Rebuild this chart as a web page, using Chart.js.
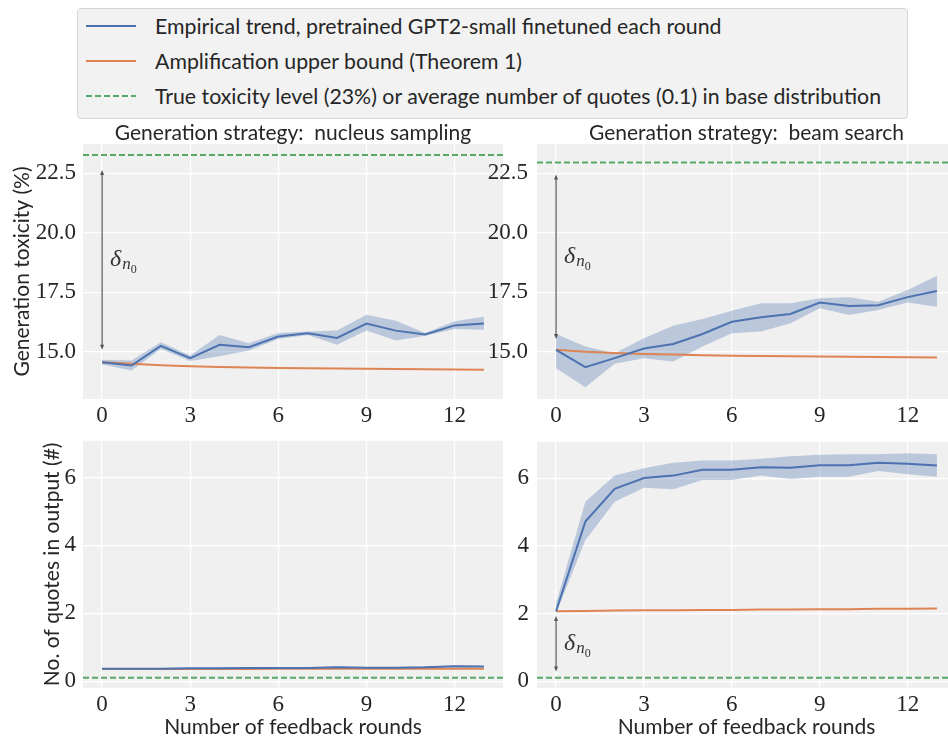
<!DOCTYPE html>
<html><head><meta charset="utf-8">
<script src="https://cdn.jsdelivr.net/npm/chart.js@4.4.1/dist/chart.umd.min.js"></script>
<style>
html,body{margin:0;padding:0;width:948px;height:740px;overflow:hidden;background:#fff;}
canvas{position:absolute;}
#legend{position:absolute;left:77px;top:8px;width:829px;height:109px;background:#f2f2f2;border:1px solid #d6d6d6;border-radius:4px;font-family:Lato,sans-serif;font-size:21.3px;color:#262626;}
#legend .sample{position:absolute;left:8px;width:50px;height:4px;}
#legend .lab{position:absolute;left:77px;height:24px;line-height:24px;white-space:nowrap;}
</style></head>
<body>
<div id="legend">
  <svg class="sample" style="top:15px" width="50" height="4"><line x1="0" y1="2" x2="50" y2="2" stroke="#4c72b0" stroke-width="2"/></svg>
  <div class="lab" style="top:5px">Empirical trend, pretrained GPT2-small finetuned each round</div>
  <svg class="sample" style="top:50px" width="50" height="4"><line x1="0" y1="2" x2="50" y2="2" stroke="#dd8452" stroke-width="2"/></svg>
  <div class="lab" style="top:40px">Amplification upper bound (Theorem 1)</div>
  <svg class="sample" style="top:85px" width="50" height="4"><line x1="0" y1="2" x2="50" y2="2" stroke="#55a868" stroke-width="2" stroke-dasharray="6,3"/></svg>
  <div class="lab" style="top:75px">True toxicity level (23%) or average number of quotes (0.1) in base distribution</div>
</div>
<canvas id="c1" width="503" height="325" style="left:0px;top:110px"></canvas>
<canvas id="c2" width="476" height="325" style="left:480px;top:110px"></canvas>
<canvas id="c3" width="503" height="320" style="left:0px;top:420px"></canvas>
<canvas id="c4" width="476" height="320" style="left:480px;top:420px"></canvas>
<script>
// ---- data ----
const rounds = [0,1,2,3,4,5,6,7,8,9,10,11,12,13];
const xTicks = [0,3,6,9,12];
const toxTicks = [15,17.5,20,22.5];
const quoteTicks = [0,2,4,6];

const nucleusToxMean  = [14.55,14.41,15.24,14.72,15.28,15.18,15.63,15.77,15.57,16.18,15.88,15.72,16.10,16.18];
const nucleusToxHigh  = [14.65,14.62,15.39,14.83,15.70,15.35,15.78,15.84,15.88,16.55,16.30,15.78,16.27,16.46];
const nucleusToxLow   = [14.45,14.20,15.11,14.60,14.80,15.04,15.53,15.70,15.28,15.88,15.46,15.66,15.95,15.92];
const nucleusToxBound = [14.55,14.48,14.42,14.38,14.35,14.33,14.31,14.29,14.28,14.27,14.26,14.25,14.24,14.23];

const beamToxMean  = [15.07,14.34,14.72,15.13,15.32,15.74,16.25,16.44,16.58,17.06,16.92,16.95,17.29,17.55];
const beamToxHigh  = [15.74,15.21,14.93,15.56,16.08,16.37,16.72,17.03,17.03,17.24,17.29,17.10,17.59,18.19];
const beamToxLow   = [14.30,13.49,14.48,14.72,14.58,15.21,15.77,15.84,16.19,16.82,16.54,16.75,17.06,16.89];
const beamToxBound = [15.07,14.99,14.94,14.90,14.87,14.84,14.82,14.81,14.80,14.79,14.78,14.77,14.76,14.75];

const nucleusQuoteMean  = [0.37,0.37,0.37,0.38,0.38,0.39,0.39,0.39,0.41,0.40,0.40,0.41,0.44,0.43];
const nucleusQuoteHigh  = [0.39,0.39,0.39,0.40,0.40,0.41,0.41,0.41,0.43,0.42,0.42,0.43,0.46,0.45];
const nucleusQuoteLow   = [0.35,0.35,0.35,0.36,0.36,0.37,0.37,0.37,0.39,0.38,0.38,0.39,0.42,0.41];
const nucleusQuoteBound = [0.36,0.36,0.36,0.36,0.36,0.36,0.37,0.37,0.37,0.37,0.37,0.37,0.37,0.37];

const beamQuoteMean  = [2.07,4.72,5.69,6.01,6.08,6.25,6.25,6.33,6.31,6.39,6.39,6.46,6.43,6.38];
const beamQuoteHigh  = [2.30,5.31,6.08,6.30,6.46,6.53,6.53,6.58,6.65,6.70,6.71,6.71,6.74,6.71];
const beamQuoteLow   = [2.00,4.17,5.31,5.72,5.68,5.95,5.95,6.08,5.98,6.05,6.05,6.22,6.12,6.05];
const beamQuoteBound = [2.07,2.08,2.09,2.10,2.10,2.11,2.11,2.12,2.12,2.13,2.13,2.14,2.14,2.15];

const baseToxNucleus = 23.28;
const baseToxBeam = 22.96;
const baseQuotes = 0.1;

const gapNucleusTox = [22.64, 15.07];
const gapBeamTox = [22.46, 15.53];
const gapBeamQuote = [1.93, 0.29];

// ---- styles ----
const BLUE='#4c72b0', ORANGE='#dd8452', GREEN='#55a868', BAND='rgba(76,114,176,0.32)';
const SANS='Lato', SERIF='"Liberation Serif"', INK='#262626';
const SANS_SIZE=21;

function panel(id, o){
  const pts = ys => rounds.map((r,i)=>({x:r,y:ys[i]}));
  const deco = {
    id:'deco'+id,
    beforeDraw(chart){
      const a=chart.chartArea, c=chart.ctx;
      c.save(); c.fillStyle='#f0f0f0'; c.fillRect(a.left,a.top,a.right-a.left,a.bottom-a.top); c.restore();
    },
    afterDatasetsDraw(chart){
      const a=chart.chartArea, c=chart.ctx, ys=chart.scales.y, xs=chart.scales.x;
      c.save();
      c.beginPath(); c.rect(a.left,a.top,a.right-a.left,a.bottom-a.top); c.clip();
      const yb = ys.getPixelForValue(o.base);
      c.strokeStyle=GREEN; c.lineWidth=2; c.setLineDash([6,3]);
      c.beginPath(); c.moveTo(a.left,yb); c.lineTo(a.right,yb); c.stroke();
      c.setLineDash([]);
      if (o.gap){
        const x0 = xs.getPixelForValue(rounds[0]);
        const y1 = ys.getPixelForValue(o.gap[0]), y2 = ys.getPixelForValue(o.gap[1]);
        c.strokeStyle='#555'; c.fillStyle='#555'; c.lineWidth=1.2;
        c.beginPath(); c.moveTo(x0,y1+3); c.lineTo(x0,y2-3); c.stroke();
        const head=(y,d)=>{c.beginPath(); c.moveTo(x0,y); c.lineTo(x0-2,y+d*5); c.lineTo(x0+2,y+d*5); c.closePath(); c.fill();};
        const up = y1<y2 ? 1 : -1;
        head(y1, up); head(y2, -up);
        const my=(y1+y2)/2+6;
        c.fillStyle='#333'; c.textBaseline='alphabetic'; c.textAlign='left';
        c.font='italic 24px '+SERIF; c.fillText('δ', x0+8, my);
        const w1=c.measureText('δ').width;
        c.font='italic 17px '+SERIF; c.fillText('n', x0+8+w1+1, my+3);
        const w2=c.measureText('n').width;
        c.font='12px '+SERIF; c.fillText('0', x0+8+w1+1+w2, my+7);
      }
      c.restore();
    }
  };
  new Chart(document.getElementById(id), {
    type:'line',
    data:{datasets:[
      {data:pts(o.mean), borderColor:BLUE, borderWidth:2, pointRadius:0, fill:false, tension:0},
      {data:pts(o.bound), borderColor:ORANGE, borderWidth:2, pointRadius:0, fill:false, tension:0},
      {data:pts(o.high), borderColor:'transparent', borderWidth:0, pointRadius:0, backgroundColor:BAND, fill:'+1'},
      {data:pts(o.low), borderColor:'transparent', borderWidth:0, pointRadius:0, fill:false}
    ]},
    options:{
      responsive:false, animation:false, devicePixelRatio:1,
      layout:{padding:{top:o.padTop||0,left:0,right:0,bottom:0}},
      plugins:{
        legend:{display:false}, tooltip:{enabled:false},
        title:{display:!!o.title, text:o.title, fullSize:false, color:INK,
          font:{family:SANS,size:SANS_SIZE,lineHeight:1,weight:'normal'}, padding:{top:34-SANS_SIZE,bottom:0}}
      },
      scales:{
        x:{type:'linear', min:-0.65, max:13.65,
          afterBuildTicks:s=>{s.ticks=xTicks.map(v=>({value:v}));},
          afterFit:s=>{s.height=o.xH;},
          grid:{color:'#ffffff',lineWidth:1.2,drawTicks:false}, border:{display:false},
          ticks:{font:{family:SERIF,size:23},color:INK,padding:3,maxRotation:0,callback:v=>String(v)},
          title:{display:!!o.xTitle,text:o.xTitle,color:INK,font:{family:SANS,size:SANS_SIZE,lineHeight:1.2},padding:{top:0,bottom:0}}
        },
        y:{type:'linear', min:o.ymin, max:o.ymax,
          afterBuildTicks:s=>{s.ticks=o.yTicks.map(v=>({value:v}));},
          afterFit:s=>{s.width=o.yW;},
          grid:{color:'#ffffff',lineWidth:1.2,drawTicks:false}, border:{display:false},
          ticks:{font:{family:SERIF,size:23},color:INK,padding:o.yPad,callback:v=>o.fmt(v)},
          title:{display:!!o.yTitle,text:o.yTitle,color:INK,font:{family:SANS,size:SANS_SIZE,lineHeight:1.2},padding:{top:o.yTitlePad||0,bottom:0}}
        }
      }
    },
    plugins:[deco]
  });
}
const f1=v=>v.toFixed(1), f0=v=>String(v);
panel('c1',{mean:nucleusToxMean,high:nucleusToxHigh,low:nucleusToxLow,bound:nucleusToxBound,base:baseToxNucleus,gap:gapNucleusTox,
  title:'Generation strategy:  nucleus sampling', yTitle:'Generation toxicity (%)', yTitlePad:10,
  ymin:13.0,ymax:23.74,yTicks:toxTicks,fmt:f1,yW:83,yPad:7,xH:36});
panel('c2',{mean:beamToxMean,high:beamToxHigh,low:beamToxLow,bound:beamToxBound,base:baseToxBeam,gap:gapBeamTox,
  title:'Generation strategy:  beam search',
  ymin:13.0,ymax:23.74,yTicks:toxTicks,fmt:f1,yW:57,yPad:9,xH:36});
panel('c3',{mean:nucleusQuoteMean,high:nucleusQuoteHigh,low:nucleusQuoteLow,bound:nucleusQuoteBound,base:baseQuotes,
  yTitle:'No. of quotes in output (#)', yTitlePad:40, xTitle:'Number of feedback rounds', padTop:13,
  ymin:-0.2,ymax:7.08,yTicks:quoteTicks,fmt:f0,yW:83,yPad:7,xH:52});
panel('c4',{mean:beamQuoteMean,high:beamQuoteHigh,low:beamQuoteLow,bound:beamQuoteBound,base:baseQuotes,gap:gapBeamQuote,
  xTitle:'Number of feedback rounds', padTop:13,
  ymin:-0.2,ymax:7.08,yTicks:quoteTicks,fmt:f0,yW:57,yPad:8,xH:52});
</script>
</body></html>
